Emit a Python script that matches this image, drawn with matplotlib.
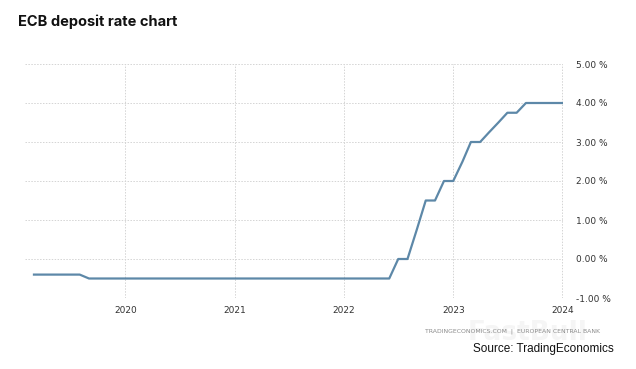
import matplotlib
matplotlib.use("Agg")
import matplotlib.pyplot as plt
import matplotlib.dates as mdates
import pandas as pd

# monthly ECB deposit facility rate, Mar 2019 - Jan 2024
months = pd.date_range("2019-03-01", "2024-01-01", freq="MS")
rates = [
    -0.40, -0.40, -0.40, -0.40, -0.40, -0.40,                # 2019 Mar-Aug
    -0.50, -0.50, -0.50, -0.50,                              # 2019 Sep-Dec
    -0.50, -0.50, -0.50, -0.50, -0.50, -0.50,
    -0.50, -0.50, -0.50, -0.50, -0.50, -0.50,                # 2020
    -0.50, -0.50, -0.50, -0.50, -0.50, -0.50,
    -0.50, -0.50, -0.50, -0.50, -0.50, -0.50,                # 2021
    -0.50, -0.50, -0.50, -0.50, -0.50, -0.50,                # 2022 Jan-Jun
    0.00, 0.00, 0.75, 1.50, 1.50, 2.00,                      # 2022 Jul-Dec
    2.00, 2.50, 3.00, 3.00, 3.25, 3.50,
    3.75, 3.75, 4.00, 4.00, 4.00, 4.00,                      # 2023
    4.00,                                                    # 2024 Jan
]
year_ticks = ["2020", "2021", "2022", "2023", "2024"]
y_ticks = [-1, 0, 1, 2, 3, 4, 5]

fig = plt.figure(figsize=(6.36, 3.69), dpi=100)
ax = fig.add_axes([25 / 636, 1 - 298 / 369, (563 - 25) / 636, (298 - 64) / 369])

ax.plot(months, rates, color="#5d88a8", lw=1.6, solid_joinstyle="round")

ax.set_xlim(pd.Timestamp("2019-01-30"), pd.Timestamp("2024-01-03"))
ax.set_ylim(-1, 5)

ax.set_xticks([pd.Timestamp(y + "-01-01") for y in year_ticks])
ax.xaxis.set_major_formatter(mdates.DateFormatter("%Y"))
ax.set_yticks(y_ticks)
ax.set_yticklabels([f"{v:.2f} %" for v in y_ticks])
ax.yaxis.tick_right()

ax.tick_params(axis="both", length=0, labelsize=6.5, colors="#333333")
ax.tick_params(axis="y", pad=9)
ax.tick_params(axis="x", pad=6)
for s in ax.spines.values():
    s.set_visible(False)
ax.grid(True, color="#d4d4d4", linestyle=(0, (1.5, 1.5)), lw=0.7)
ax.set_axisbelow(True)

fig.text(18 / 636, 1 - 22 / 369, "ECB deposit rate chart", fontsize=10.5,
         fontweight="bold", family="Inter", va="center", color="#111111")

# faint watermark behind the footer
fig.text(528 / 636, 1 - 333 / 369, "FastBull", fontsize=19, fontweight="bold",
         color="#f5f5f5", ha="center", va="center", zorder=-1)
fig.text(600 / 636, 1 - 331 / 369, "TRADINGECONOMICS.COM  |  EUROPEAN CENTRAL BANK",
         fontsize=4.4, color="#8a8a8a", ha="right", va="center")
fig.text(614 / 636, 1 - 349 / 369, "Source: TradingEconomics", fontsize=8.5,
         family="Liberation Sans", color="#111111", ha="right", va="center")

fig.savefig("out.png", dpi=100, facecolor="white")
